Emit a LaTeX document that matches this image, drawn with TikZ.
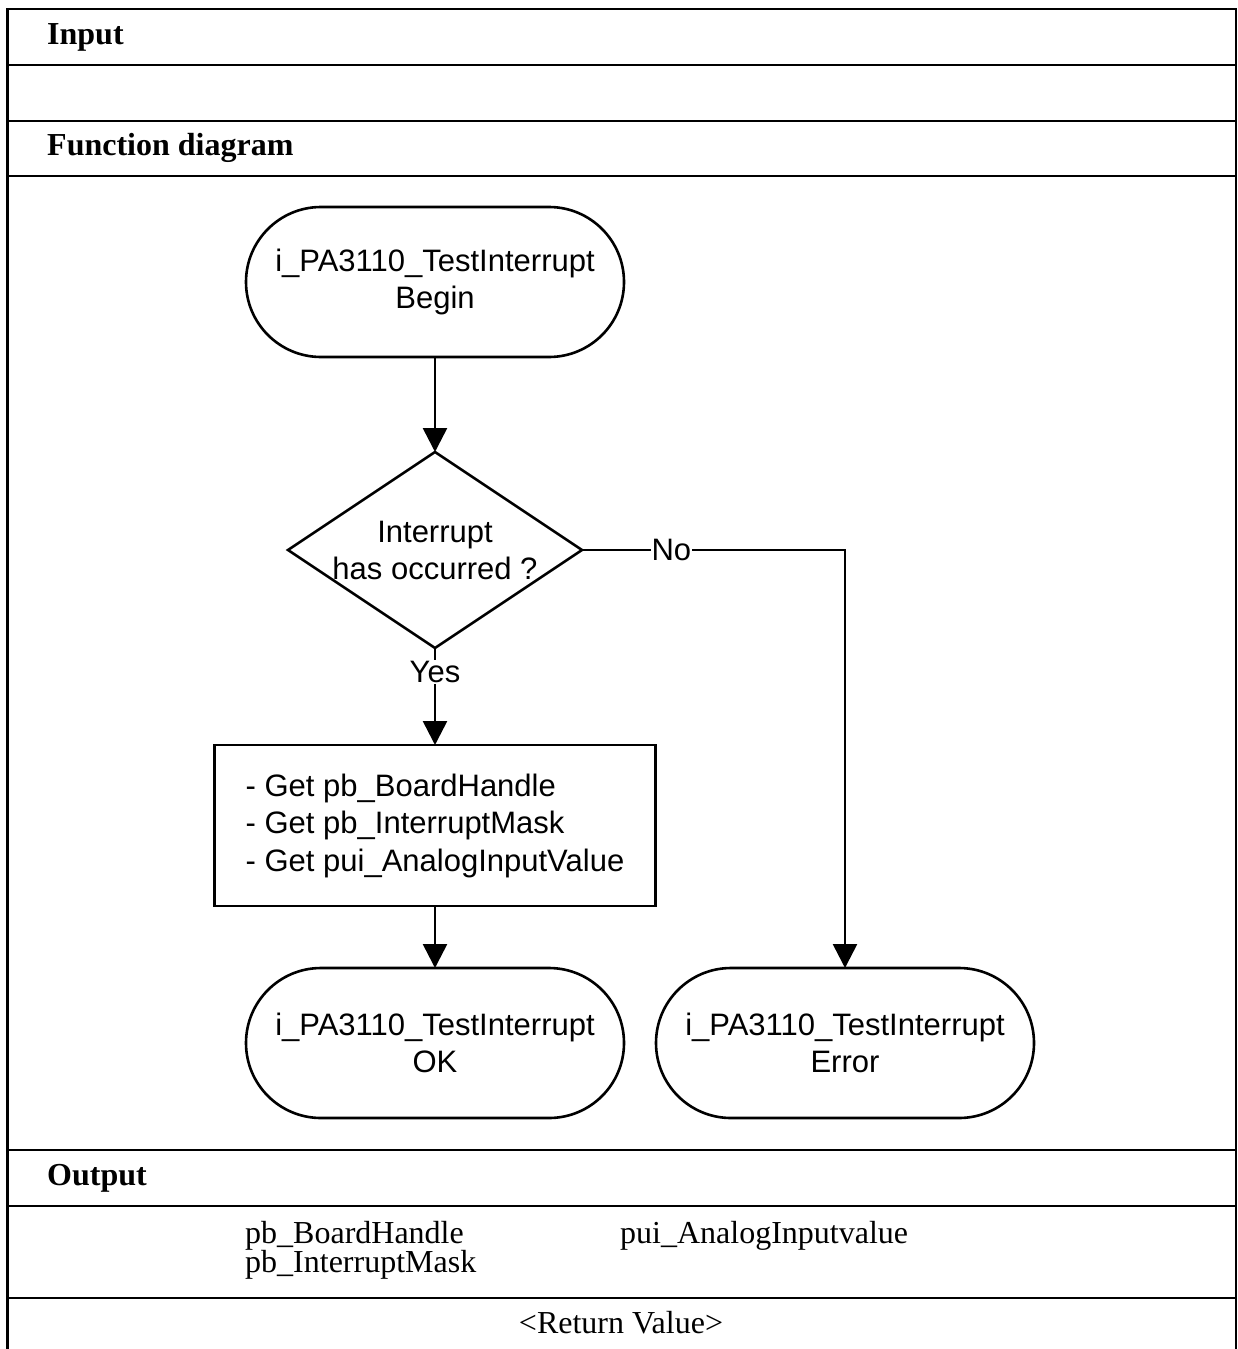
\documentclass[tikz,border=0pt]{standalone}
\usepackage{fontspec}
\setmainfont{Liberation Serif}
\newfontfamily\arialfont{Liberation Sans}
\usepackage{tikz}
\usetikzlibrary{arrows.meta,positioning,shapes.geometric}
\tikzset{
  >={Triangle[length=24pt,width=24pt]},
  frame/.style={line width=2.6pt},
  flow/.style={line width=2.6pt},
  hdr/.style={anchor=west,inner sep=0pt,font=\fontsize{32}{38}\selectfont\bfseries},
  val/.style={anchor=west,inner sep=0pt,font=\fontsize{32}{30}\selectfont},
  term/.style={rounded corners=75pt,draw,line width=2.6pt,minimum width=378pt,minimum height=150pt,
    align=center,inner sep=0pt,outer sep=0pt,font=\arialfont\fontsize{31}{37}\selectfont},
  dec/.style={diamond,draw,line width=2.6pt,minimum width=294pt,minimum height=196pt,inner sep=0pt,outer sep=0pt},
  qtext/.style={align=center,inner sep=0pt,font=\arialfont\fontsize{31}{37}\selectfont},
  box/.style={draw,line width=2.6pt,minimum width=441pt,minimum height=161pt,align=left,
    inner sep=0pt,outer sep=0pt,font=\arialfont\fontsize{31}{37.5}\selectfont},
  lbl/.style={fill=white,inner sep=1pt,font=\arialfont\fontsize{31}{37}\selectfont},
}
\begin{document}
\begin{tikzpicture}[x=1pt,y=1pt]
  \useasboundingbox (0,0) rectangle (1237,-1349);
  % table frame
  \draw[frame] (7.5,-1349) |- (1236,-9) -- (1236,-1349);
  \foreach \y in {65,121,176,1150,1206,1298}
    \draw[frame] (7.5,-\y) -- (1236,-\y);
  \node[hdr] (input) at (47,-37) {Input};
  \node[hdr] (fdiag) at (47,-148) {Function diagram};
  \node[hdr] (output) at (47,-1178) {Output};
  \node[val] (outa) at (245,-1236) {pb\_BoardHandle};
  \node[val] (outb) at (245,-1265) {pb\_InterruptMask};
  \node[val] (outc) at (620,-1236) {pui\_AnalogInputvalue};
  \node[val,anchor=center] (ret) at (621,-1323) {<Return Value>};
  % flow chart
  \node[term] (begin) at (435,-282) {i\_PA3110\_TestInterrupt\\Begin};
  \node[dec,below=95pt of begin] (test) {};
  \node[qtext] (testq) at (test) {Interrupt\\has occurred ?};
  \node[box,below=97pt of test] (get) {- Get pb\_BoardHandle\\- Get pb\_InterruptMask\\- Get pui\_AnalogInputValue};
  \node[term,below=62pt of get] (ok) {i\_PA3110\_TestInterrupt\\OK};
  \node[term,right=32pt of ok] (err) {i\_PA3110\_TestInterrupt\\Error};
  \draw[flow,->] (begin) -- (test);
  \draw[flow,->] (test) -- node[lbl,pos=0.25] {Yes} (get);
  \draw[flow,->] (get) -- (ok);
  \draw[flow,->] (test.east) -- node[lbl,pos=0.34] {No} (test.east -| err.north) -- (err.north);
\end{tikzpicture}
\end{document}
